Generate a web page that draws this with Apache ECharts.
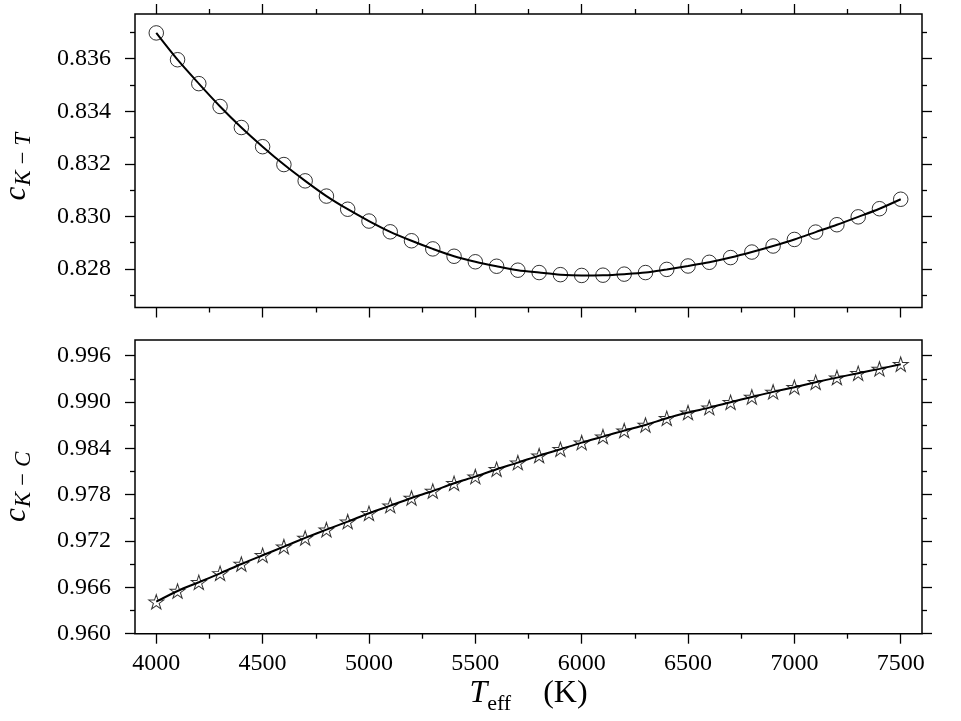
<!DOCTYPE html>
<html>
<head>
<meta charset="utf-8">
<script src="https://cdn.jsdelivr.net/npm/echarts@6/dist/echarts.min.js"></script>
<style>
html,body{margin:0;padding:0;background:#fff;}
#main{width:961px;height:721px;}
</style>
</head>
<body>
<div id="main"></div>
<script>
// Teff grid (K) and the two coefficients
var teff = [4000,4100,4200,4300,4400,4500,4600,4700,4800,4900,5000,5100,5200,5300,5400,5500,5600,5700,
            5800,5900,6000,6100,6200,6300,6400,6500,6600,6700,6800,6900,7000,7100,7200,7300,7400,7500];
var cKT = [0.83698,0.83596,0.83505,0.83418,0.83338,0.83265,0.83197,0.83135,0.83077,0.83027,0.82982,0.82941,
           0.82907,0.82876,0.82848,0.82827,0.82810,0.82795,0.82786,0.82778,0.82775,0.82776,0.82780,0.82786,
           0.82798,0.82811,0.82825,0.82843,0.82864,0.82887,0.82912,0.82940,0.82968,0.82998,0.83029,0.83065];
var cKC = [0.96414,0.96553,0.96666,0.96782,0.96903,0.97016,0.97127,0.97240,0.97347,0.97451,0.97560,0.97658,
           0.97758,0.97848,0.97948,0.98034,0.98130,0.98215,0.98306,0.98389,0.98474,0.98552,0.98630,0.98703,
           0.98790,0.98863,0.98927,0.98997,0.99066,0.99131,0.99192,0.99256,0.99316,0.99373,0.99429,0.99490];

var xMajor = [4000,4500,5000,5500,6000,6500,7000,7500];
var xMinor = [4250,4750,5250,5750,6250,6750,7250];
var yTopMajor = [0.828,0.830,0.832,0.834,0.836];
var yTopMinor = [0.827,0.829,0.831,0.833,0.835,0.837];
var yBotMajor = [0.960,0.966,0.972,0.978,0.984,0.990,0.996];
var yBotMinor = [0.963,0.969,0.975,0.981,0.987,0.993];

var FONT = 'Liberation Serif';
var X_MIN = 3900, X_MAX = 7600;

var starPath = 'path://M0,-10L2.245,-3.09L9.51,-3.09L3.633,1.18L5.878,8.09L0,3.82L-5.878,8.09L-3.633,1.18L-9.51,-3.09L-2.245,-3.09Z';

function pairs(ys){
	var out = [];
	for(var i=0;i<teff.length;i++){ out.push([teff[i], ys[i]]); }
	return out;
}

// one axis = one set of ticks (major or minor) on one side
function ax(grid, pos, min, max, ticks, len, labels, fmt){
	var a = {
		type: 'value', gridIndex: grid, position: pos, min: min, max: max,
		axisLine: {show: false},
		splitLine: {show: false},
		axisTick: {show: true, inside: false, customValues: ticks, length: len, lineStyle: {color: '#000', width: 1.3}},
		axisLabel: {show: false}
	};
	if(labels){
		a.axisLabel = {show: true, customValues: labels, color: '#000', fontFamily: FONT, fontSize: 24,
			margin: pos === 'left' ? 24 : 18, formatter: fmt};
	}
	return a;
}

var fmtY = function(v){ return v.toFixed(3); };
var fmtX = function(v){ return String(v); };

var TOP_MIN = 0.82653, TOP_MAX = 0.83770;
var BOT_MIN = 0.960, BOT_MAX = 0.99803;

var xAxes = [
	ax(0,'bottom',X_MIN,X_MAX,xMajor,10),
	ax(0,'bottom',X_MIN,X_MAX,xMinor,5),
	ax(0,'top',X_MIN,X_MAX,xMajor,10),
	ax(0,'top',X_MIN,X_MAX,xMinor,5),
	ax(1,'bottom',X_MIN,X_MAX,xMajor,10,xMajor,fmtX),
	ax(1,'bottom',X_MIN,X_MAX,xMinor,5)
];
var yAxes = [
	ax(0,'left',TOP_MIN,TOP_MAX,yTopMajor,10,yTopMajor,fmtY),
	ax(0,'left',TOP_MIN,TOP_MAX,yTopMinor,5),
	ax(0,'right',TOP_MIN,TOP_MAX,yTopMajor,10),
	ax(0,'right',TOP_MIN,TOP_MAX,yTopMinor,5),
	ax(1,'left',BOT_MIN,BOT_MAX,yBotMajor,10,yBotMajor,fmtY),
	ax(1,'left',BOT_MIN,BOT_MAX,yBotMinor,5),
	ax(1,'right',BOT_MIN,BOT_MAX,yBotMajor,10),
	ax(1,'right',BOT_MIN,BOT_MAX,yBotMinor,5)
];

// axis titles: big symbol (padding-bottom lifts it) + lowered subscript
var subRich = {
	c: {fontFamily: FONT, fontStyle: 'italic', fontSize: 31, lineHeight: 40, verticalAlign: 'bottom', padding: [0,1,3,0], color: '#000'},
	s: {fontFamily: FONT, fontStyle: 'italic', fontSize: 23, lineHeight: 40, verticalAlign: 'bottom', color: '#000'},
	t: {fontFamily: FONT, fontStyle: 'italic', fontSize: 32, lineHeight: 40, verticalAlign: 'bottom', padding: [0,0,6,0], color: '#000'},
	u: {fontFamily: FONT, fontSize: 22, lineHeight: 40, verticalAlign: 'bottom', color: '#000'},
	k: {fontFamily: FONT, fontSize: 32, lineHeight: 40, verticalAlign: 'bottom', padding: [0,0,6,0], color: '#000'}
};
yAxes[0].name = '{c|c}{s|K\u2009\u2212\u2009T}';
yAxes[4].name = '{c|c}{s|K\u2009\u2212\u2009C}';
[0,4].forEach(function(i){
	yAxes[i].nameLocation = 'middle';
	yAxes[i].nameRotate = 90;
	yAxes[i].nameGap = 100;
	yAxes[i].nameTextStyle = {rich: subRich};
});
yAxes[0].nameTextStyle.padding = [0, 12, 0, 0]; // top label sits a bit lower than centre
xAxes[4].name = '{t|T}{u|eff}{k|    (K)}';
xAxes[4].nameLocation = 'middle';
xAxes[4].nameGap = 42;
xAxes[4].nameTextStyle = {rich: subRich};

var grids = [
	{left: 135, top: 14, width: 787, height: 293.5},
	{left: 135, top: 340, width: 787, height: 293.7}
];
grids.forEach(function(g){
	g.show = true; g.borderColor = '#000'; g.borderWidth = 1.5; g.backgroundColor = '#fff';
	g.containLabel = false; g.outerBoundsMode = 'none';
});

var option = {
	animation: false,
	backgroundColor: '#fff',
	grid: grids,
	xAxis: xAxes,
	yAxis: yAxes,
	series: [
		{
			type: 'line', xAxisIndex: 0, yAxisIndex: 0, data: pairs(cKT), smooth: 0.3,
			showSymbol: false, lineStyle: {color: '#000', width: 2}, z: 3
		},
		{
			type: 'scatter', xAxisIndex: 0, yAxisIndex: 0, data: pairs(cKT), symbol: 'circle', symbolSize: 14.5,
			itemStyle: {color: 'rgba(0,0,0,0)', borderColor: '#000', borderWidth: 1}, z: 4
		},
		{
			type: 'line', xAxisIndex: 4, yAxisIndex: 4, data: pairs(cKC), smooth: 0.3,
			showSymbol: false, lineStyle: {color: '#000', width: 2}, z: 3
		},
		{
			type: 'scatter', xAxisIndex: 4, yAxisIndex: 4, data: pairs(cKC), symbol: starPath, symbolSize: [15, 14.3],
			itemStyle: {color: 'rgba(0,0,0,0)', borderColor: '#000', borderWidth: 1}, z: 4
		}
	]
};

var chart = echarts.init(document.getElementById('main'), null, {renderer: 'canvas'});
chart.setOption(option);
</script>
</body>
</html>
